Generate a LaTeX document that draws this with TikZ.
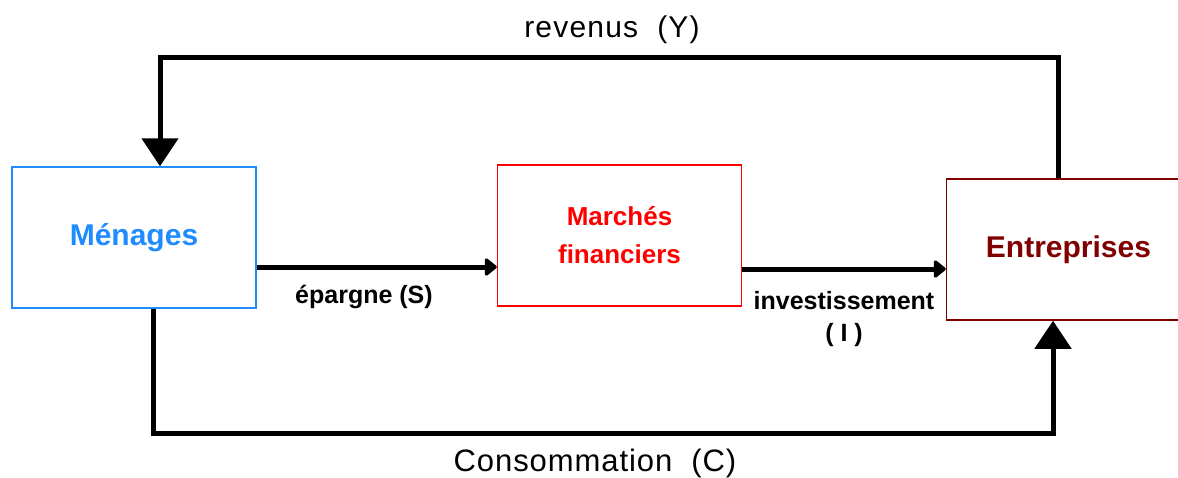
\documentclass[tikz,border=0pt]{standalone}
\usepackage{fontspec}
\setmainfont{Liberation Sans}
\usetikzlibrary{positioning,calc,arrows.meta}
\definecolor{menblue}{RGB}{30,140,255}
\definecolor{firmred}{RGB}{128,0,0}

\begin{document}
\begin{tikzpicture}[x=1pt,y=-1pt]
  \useasboundingbox (0,0) rectangle (1178,477);
  \begin{scope}[
    every node/.style={
      draw,
      line width=1.5pt,
      align=center,
      inner sep=0pt,
      minimum width=244pt,
      minimum height=141pt,
    },
    ]
    \node[draw=menblue,text=menblue,font=\fontsize{30}{34}\selectfont\bfseries]
      (menages) at (134,237.5) {\raisebox{-3pt}{Ménages}};
    \node[draw=red,text=red,font=\fontsize{26}{38}\selectfont\bfseries]
      (marches) at (619.5,235.5) {Marchés\\financiers};
    \node[draw=firmred,text=firmred,font=\fontsize{30}{34}\selectfont\bfseries]
      (entreprises) at (1068.5,249.5) {\raisebox{-4pt}{Entreprises}};
  \end{scope}
  \begin{scope}[
    every path/.style={draw,line width=5pt},
    big/.style={-{Triangle[width=36pt,length=28pt]}},
    small/.style={-{Triangle[width=20pt,length=13pt,round]}},
    ]
    \path[big] ([xshift=-10.5pt]entreprises.north) |- (612,57) -| ([xshift=26pt]menages.north);
    \path[big] ([xshift=19pt]menages.south) |- (612,433) -| ([xshift=-15.5pt]entreprises.south);
    \path[small] ([yshift=-29.5pt]menages.east) -- ([yshift=-29.5pt]menages.east -| marches.west);
    \path[small] ([yshift=-33.5pt]marches.east) -- ([yshift=-33.5pt]marches.east -| entreprises.west);
  \end{scope}
  \begin{scope}[every node/.style={inner sep=0pt}]
    \node[font=\fontsize{30}{34}\selectfont\addfontfeatures{LetterSpace=4}] (revenus) at (612,30) {revenus\ \ (Y)};
    \node[font=\fontsize{31}{36}\selectfont\addfontfeatures{LetterSpace=3}] (conso) at (595,463) {Consommation\ \ (C)};
    \node[font=\fontsize{25}{29}\selectfont\bfseries] (epargne) at (364,297) {épargne (S)};
    \node[font=\fontsize{25}{29}\selectfont\bfseries] (invest) at (844,301) {investissement};
    \node[font=\fontsize{25}{29}\selectfont\bfseries,below=13pt of invest] (invest-i) {( I )};
  \end{scope}
\end{tikzpicture}
\end{document}
